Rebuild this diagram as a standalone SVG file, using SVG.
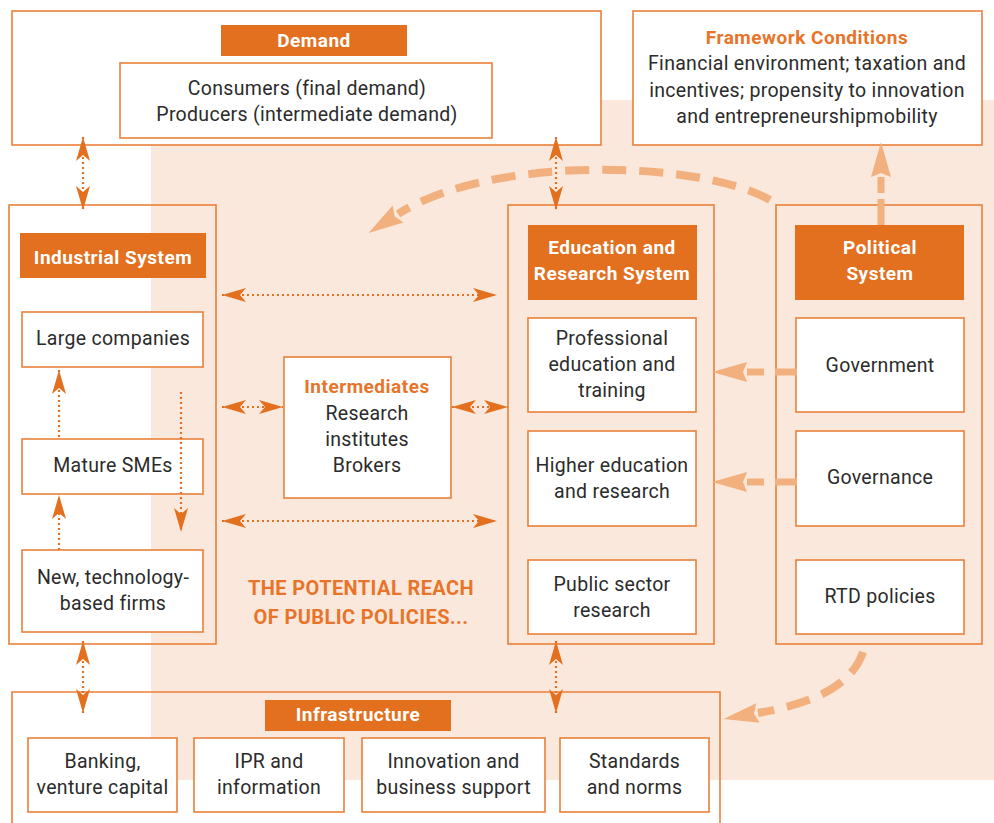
<svg xmlns="http://www.w3.org/2000/svg" width="994" height="823" viewBox="0 0 994 823">
<style>
.box{fill:#fff;stroke:#E9803A;stroke-width:1.6}
.frame{fill:none;stroke:#E9803A;stroke-width:1.6}
.hdr{fill:#E2701F}
.t{font-family:Roboto,"Liberation Sans",sans-serif;font-size:19.5px;letter-spacing:0.3px;fill:#2b2b2b;text-anchor:middle}
.h{font-family:Roboto,"Liberation Sans",sans-serif;font-size:19px;letter-spacing:0.5px;font-weight:700;fill:#fff;text-anchor:middle}
.o{font-family:Roboto,"Liberation Sans",sans-serif;font-size:19px;letter-spacing:0.5px;font-weight:700;fill:#E8742A;text-anchor:middle}
.dot{fill:none;stroke:#E2701F;stroke-width:2.2;stroke-dasharray:2 3}
.lt{fill:none;stroke:#F2B07E;stroke-width:7}
.ltd{fill:none;stroke:#F2B07E;stroke-width:8;stroke-dasharray:24 13}
</style>
<defs>
<marker id="ah" markerUnits="userSpaceOnUse" markerWidth="24" markerHeight="14" refX="24" refY="7" orient="auto-start-reverse" overflow="visible">
<path d="M0,0 L24,7 L0,14 L6,7 z" fill="#E2701F"/>
</marker>
<marker id="lh" markerUnits="userSpaceOnUse" markerWidth="36" markerHeight="20" refX="0" refY="10" orient="auto" overflow="visible">
<path d="M0,0 L35,10 L0,20 L4,10 z" fill="#F2B07E"/>
</marker>
</defs>

<rect x="151" y="100" width="843" height="680" fill="#FAE8DC"/>

<g id="demand">
<rect class="box" x="12" y="11" width="589" height="134"/>
<rect class="hdr" x="221" y="25" width="186" height="31"/>
<text class="h" x="314" y="47">Demand</text>
<rect class="box" x="120" y="63" width="372" height="75"/>
<text class="t" x="307" y="95">Consumers (final demand)</text>
<text class="t" x="307" y="121">Producers (intermediate demand)</text>
</g>

<g id="framework">
<rect class="box" x="633" y="11" width="349" height="134"/>
<text class="o" x="807" y="44">Framework Conditions</text>
<text class="t" x="807" y="70">Financial environment; taxation and</text>
<text class="t" x="807" y="97">incentives; propensity to innovation</text>
<text class="t" x="807" y="123">and entrepreneurshipmobility</text>
</g>

<g id="industrial">
<rect class="frame" x="9" y="205" width="207" height="439"/>
<rect class="hdr" x="20" y="233" width="186" height="45"/>
<text class="h" x="113" y="264">Industrial System</text>
<rect class="box" x="22" y="312" width="181" height="55"/>
<text class="t" x="113" y="345">Large companies</text>
<rect class="box" x="22" y="439" width="181" height="55"/>
<text class="t" x="113" y="472">Mature SMEs</text>
<rect class="box" x="22" y="550" width="181" height="82"/>
<text class="t" x="113" y="584">New, technology-</text>
<text class="t" x="113" y="610">based firms</text>
</g>

<g id="intermediates">
<rect class="box" x="284" y="357" width="167" height="141"/>
<text class="o" x="367" y="393">Intermediates</text>
<text class="t" x="367" y="420">Research</text>
<text class="t" x="367" y="446">institutes</text>
<text class="t" x="367" y="472">Brokers</text>
</g>

<g id="education">
<rect class="frame" x="508" y="205" width="206" height="439"/>
<rect class="hdr" x="528" y="225" width="169" height="75"/>
<text class="h" x="612" y="254">Education and</text>
<text class="h" x="612" y="280">Research System</text>
<rect class="box" x="528" y="318" width="168" height="94"/>
<text class="t" x="612" y="345">Professional</text>
<text class="t" x="612" y="371">education and</text>
<text class="t" x="612" y="397">training</text>
<rect class="box" x="528" y="431" width="168" height="95"/>
<text class="t" x="612" y="472">Higher education</text>
<text class="t" x="612" y="498">and research</text>
<rect class="box" x="528" y="560" width="168" height="74"/>
<text class="t" x="612" y="591">Public sector</text>
<text class="t" x="612" y="617">research</text>
</g>

<g id="political">
<rect class="frame" x="776" y="205" width="206" height="439"/>
<rect class="hdr" x="795" y="225" width="169" height="75"/>
<text class="h" x="880" y="254">Political</text>
<text class="h" x="880" y="280">System</text>
<rect class="box" x="796" y="318" width="168" height="94"/>
<text class="t" x="880" y="372">Government</text>
<rect class="box" x="796" y="431" width="168" height="95"/>
<text class="t" x="880" y="484">Governance</text>
<rect class="box" x="796" y="560" width="168" height="74"/>
<text class="t" x="880" y="603">RTD policies</text>
</g>

<g id="infrastructure">
<path class="frame" d="M12,823 V692 H720 V823"/>
<rect class="hdr" x="265" y="700" width="186" height="31"/>
<text class="h" x="358" y="721">Infrastructure</text>
<rect class="box" x="28" y="738" width="149" height="74"/>
<text class="t" x="102.5" y="768">Banking,</text>
<text class="t" x="102.5" y="794">venture capital</text>
<rect class="box" x="194" y="738" width="150" height="74"/>
<text class="t" x="269" y="768">IPR and</text>
<text class="t" x="269" y="794">information</text>
<rect class="box" x="362" y="738" width="183" height="74"/>
<text class="t" x="453.5" y="768">Innovation and</text>
<text class="t" x="453.5" y="794">business support</text>
<rect class="box" x="560" y="738" width="149" height="74"/>
<text class="t" x="634.5" y="768">Standards</text>
<text class="t" x="634.5" y="794">and norms</text>
</g>

<g id="reach-label">
<text class="o" x="361" y="595" style="font-size:20px;letter-spacing:0.4px">THE POTENTIAL REACH</text>
<text class="o" x="361" y="624" style="font-size:20px;letter-spacing:0.4px">OF PUBLIC POLICIES...</text>
</g>

<g id="connectors">
<path class="dot" d="M83,137 V210" marker-start="url(#ah)" marker-end="url(#ah)"/>
<path class="dot" d="M556,137 V210" marker-start="url(#ah)" marker-end="url(#ah)"/>
<path class="dot" d="M83,641 V713" marker-start="url(#ah)" marker-end="url(#ah)"/>
<path class="dot" d="M556,641 V713" marker-start="url(#ah)" marker-end="url(#ah)"/>
<path class="dot" d="M222,295 H497" marker-start="url(#ah)" marker-end="url(#ah)"/>
<path class="dot" d="M222,407 H283" marker-start="url(#ah)" marker-end="url(#ah)"/>
<path class="dot" d="M452,407 H508" marker-start="url(#ah)" marker-end="url(#ah)"/>
<path class="dot" d="M222,521 H497" marker-start="url(#ah)" marker-end="url(#ah)"/>
<path class="dot" d="M59,550 V495" marker-end="url(#ah)"/>
<path class="dot" d="M59,437 V370" marker-end="url(#ah)"/>
<path class="dot" d="M181,392 V532" marker-end="url(#ah)"/>

<path class="lt" d="M797,372 H775 M764,372 H747" marker-end="url(#lh)"/>
<path class="lt" d="M797,482 H775 M764,482 H747" marker-end="url(#lh)"/>
<path class="lt" d="M881,225 V199 M881,193 V177" marker-end="url(#lh)"/>
<path class="ltd" d="M770,200 C700,160 490,155 398,214" marker-end="url(#lh)"/>
<path class="ltd" d="M863,652 C852,685 815,703 758,713" marker-end="url(#lh)"/>
</g>
</svg>
